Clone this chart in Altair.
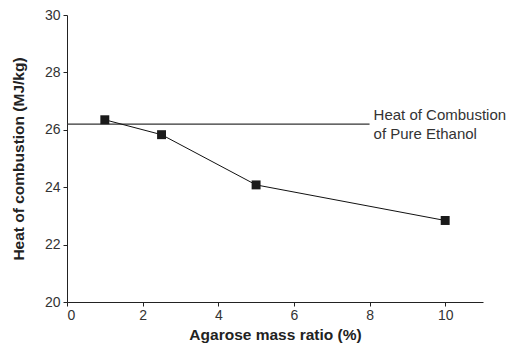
import altair as alt
import pandas as pd

# data
agarose_ratio = [1, 2.5, 5, 10]
heat_combustion = [26.35, 25.83, 24.08, 22.84]
ethanol_heat = 26.2
ethanol_x_start = 0
ethanol_x_end = 8
ethanol_label = ["Heat of Combustion", "of Pure Ethanol"]

df = pd.DataFrame({"x": agarose_ratio, "y": heat_combustion})
ref = pd.DataFrame({"x": [ethanol_x_start], "x2": [ethanol_x_end], "y": [ethanol_heat]})
lab = pd.DataFrame({"x": [ethanol_x_end], "y": [ethanol_heat], "t": [ethanol_label]})

font = "Liberation Sans"

xscale = alt.Scale(domain=[0, 11], nice=False, zero=False)
yscale = alt.Scale(domain=[20, 30], nice=False, zero=False)

xaxis = alt.Axis(
    title="Agarose mass ratio (%)",
    values=list(range(0, 12)),
    labelExpr="datum.value % 2 == 0 && datum.value <= 10 ? datum.label : ''",
    grid=False,
    tickSize={"condition": {"test": "datum.value % 2 == 1", "value": 3}, "value": 4},
    tickColor="#222", domainColor="#222",
    labelFont=font, labelFontSize=14, labelColor="#333", labelPadding=2,
    titleFont=font, titleFontSize=15.5, titleFontWeight="bold", titleColor="#222",
    titlePadding=5,
)
yaxis = alt.Axis(
    title="Heat of combustion (MJ/kg)",
    values=list(range(20, 31)),
    labelExpr="datum.value % 2 == 0 ? datum.label : ''",
    grid=False,
    tickSize={"condition": {"test": "datum.value % 2 == 1", "value": 3}, "value": 4},
    tickColor="#222", domainColor="#222",
    labelFont=font, labelFontSize=14, labelColor="#333", labelPadding=3,
    titleFont=font, titleFontSize=15.5, titleFontWeight="bold", titleColor="#222",
    titlePadding=18,
)

base_x = alt.X("x:Q", scale=xscale, axis=xaxis)
base_y = alt.Y("y:Q", scale=yscale, axis=yaxis)

line = alt.Chart(df).mark_line(color="#111", strokeWidth=1).encode(x=base_x, y=base_y)
pts = alt.Chart(df).mark_square(color="#1a1a1a", size=80, opacity=1).encode(x="x:Q", y="y:Q")
rule = alt.Chart(ref).mark_rule(color="#333", strokeWidth=1.2).encode(x="x:Q", x2="x2:Q", y="y:Q")
text = alt.Chart(lab).mark_text(
    align="left", baseline="middle", dx=4, dy=-9, font=font, fontSize=15,
    color="#333", lineHeight=19
).encode(x="x:Q", y="y:Q", text="t")

chart = alt.layer(rule, line, pts, text).properties(
    width=416, height=287,
    autosize=alt.AutoSizeParams(type="none"),
    padding={"left": 59, "top": 7, "right": 29, "bottom": 42},
).configure_view(stroke=None)

chart.save("out.html", embed_options={"renderer": "svg", "actions": False})
